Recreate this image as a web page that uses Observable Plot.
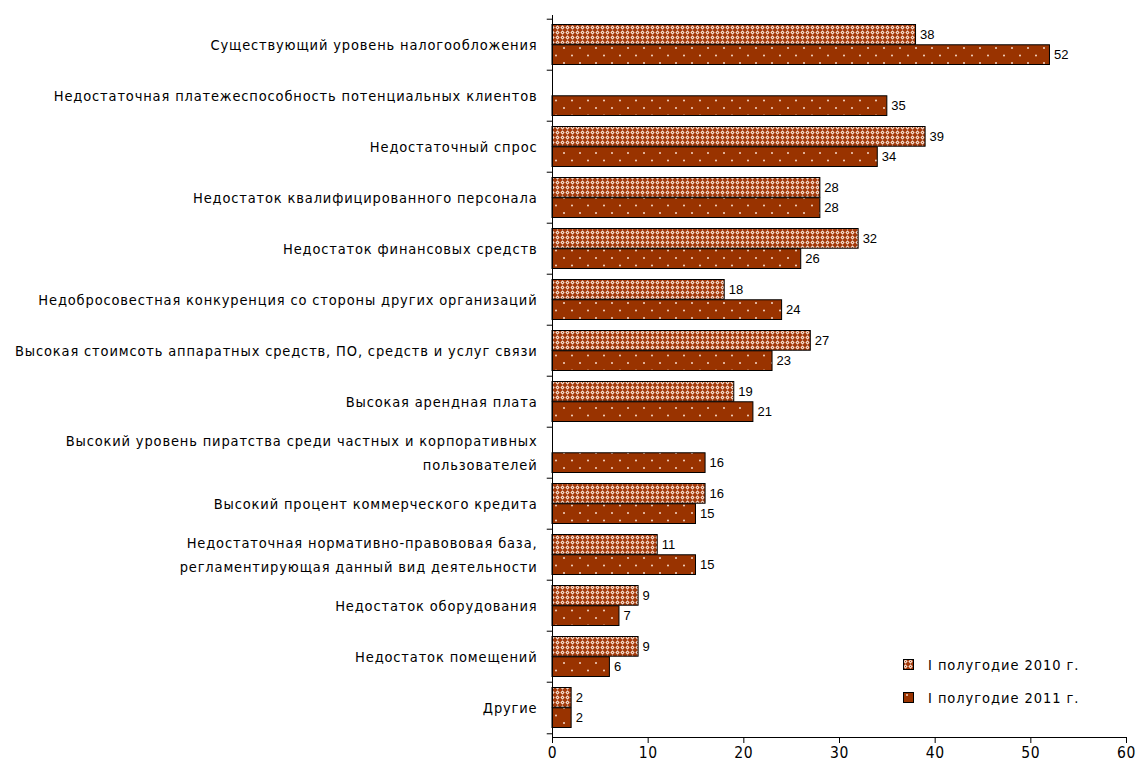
<!DOCTYPE html>
<html>
<head>
<meta charset="utf-8">
<script src="https://cdn.jsdelivr.net/npm/d3@7"></script>
<script src="https://cdn.jsdelivr.net/npm/@observablehq/plot@0.6"></script>
<style>
  html, body { margin: 0; padding: 0; background: #fff; }
  #wrap { position: relative; width: 1137px; height: 773px; }
  #chart svg { display: block; }
  #legend { position: absolute; left: 903px; top: 648px; font-family: "DejaVu Sans Condensed", sans-serif; font-size: 14.5px; letter-spacing: 0.95px; color: #000; }
  #legend .row { display: flex; align-items: center; height: 33px; }
  #legend svg { margin-right: 14px; }
</style>
</head>
<body>
<div id="wrap"><div id="chart"></div><div id="legend"></div></div>
<script>
const categories = [
  "Существующий уровень налогообложения",
  "Недостаточная платежеспособность потенциальных клиентов",
  "Недостаточный спрос",
  "Недостаток квалифицированного персонала",
  "Недостаток финансовых средств",
  "Недобросовестная конкуренция со стороны других организаций",
  "Высокая стоимсоть аппаратных средств, ПО, средств и услуг связи",
  "Высокая арендная плата",
  "Высокий уровень пиратства среди частных и корпоративных\nпользователей",
  "Высокий процент коммерческого кредита",
  "Недостаточная нормативно-правововая база,\nрегламентирующая данный вид деятельности",
  "Недостаток оборудования",
  "Недостаток помещений",
  "Другие"
];
const values2010 = [38, null, 39, 28, 32, 18, 27, 19, null, 16, 11, 9, 9, 2];
const values2011 = [52, 35, 34, 28, 26, 24, 23, 21, 16, 15, 15, 7, 6, 2];
const seriesNames = ["I полугодие 2010 г.", "I полугодие 2011 г."];
const xTicks = [0, 10, 20, 30, 40, 50, 60];

const data2010 = categories.map((c, i) => ({category: c, value: values2010[i]})).filter(d => d.value != null);
const data2011 = categories.map((c, i) => ({category: c, value: values2011[i]}));

const labelLines = categories.flatMap(c => {
  const parts = c.split("\n");
  return parts.map((t, j) => ({category: c, text: t, shift: (j - (parts.length - 1) / 2)}));
});

const W = 1137, H = 773;
const mTop = 15, mBottom = 36, mLeft = 552, mRight = 11;
const bw = (H - mTop - mBottom) / categories.length;
const half = bw / 2;
const edge = 5.5;
const labelOffset = (edge + half) / 2 - half;
const lineGap = 24;
const labelStyle = {fontFamily: "DejaVu Sans Condensed, sans-serif", fontSize: 14.5, fill: "#000"};

const chart = Plot.plot({
  width: W,
  height: H,
  marginTop: mTop,
  marginBottom: mBottom,
  marginLeft: mLeft,
  marginRight: mRight,
  style: {fontFamily: "DejaVu Sans Condensed, sans-serif", fontSize: "14px", background: "#fff", color: "#000"},
  x: {domain: [0, 60], ticks: xTicks, tickSize: 6, line: true, label: null, tickFormat: () => ""},
  y: {domain: categories, padding: 0, axis: null},
  marks: [
    Plot.barX(data2010, {y: "category", x: "value", insetTop: edge, insetBottom: half, fill: "url(#p2010)", stroke: "#000", strokeWidth: 1}),
    Plot.barX(data2011, {y: "category", x: "value", insetTop: half, insetBottom: edge, fill: "url(#p2011)", stroke: "#000", strokeWidth: 1}),
    Plot.ruleX([0], {stroke: "#000"}),
    Plot.ruleY(categories, {y: d => d, x1: 0, x2: -0.55, dy: -half, stroke: "#000"}),
    Plot.ruleY(categories.slice(-1), {y: d => d, x1: 0, x2: -0.55, dy: half, stroke: "#000"}),
    Plot.text(xTicks, {x: d => d, text: d => String(d), frameAnchor: "bottom", dy: 20, fontFamily: "DejaVu Sans Condensed, sans-serif", fontSize: 15.5, fill: "#000"}),
    Plot.text(data2010, {y: "category", x: "value", text: d => String(d.value), dx: 4, dy: labelOffset, textAnchor: "start", fontFamily: "Liberation Sans Narrow, sans-serif", fontSize: 13, fill: "#000"}),
    Plot.text(data2011, {y: "category", x: "value", text: d => String(d.value), dx: 4, dy: -labelOffset, textAnchor: "start", fontFamily: "Liberation Sans Narrow, sans-serif", fontSize: 13, fill: "#000"}),
    Plot.text(labelLines.filter(d => d.shift < 0), {y: "category", x: 0, text: "text", dx: -15, dy: -lineGap / 2, textAnchor: "end", ...labelStyle}),
    Plot.text(labelLines.filter(d => d.shift === 0), {y: "category", x: 0, text: "text", dx: -15, textAnchor: "end", ...labelStyle}),
    Plot.text(labelLines.filter(d => d.shift > 0), {y: "category", x: 0, text: "text", dx: -15, dy: lineGap / 2, textAnchor: "end", ...labelStyle})
  ]
});

const svg = d3.select(chart);
svg.selectAll("g[aria-label='text']").each(function(d, i) {
  if (i >= 3) d3.select(this).attr("letter-spacing", "0.85px");
  if (i === 0) d3.select(this).attr("letter-spacing", "0.6px");
});

const defs = svg.insert("defs", ":first-child");
const p1 = defs.append("pattern").attr("id", "p2010").attr("patternUnits", "userSpaceOnUse").attr("width", 5).attr("height", 5);
p1.append("rect").attr("width", 5).attr("height", 5).attr("fill", "#a43a0c");
p1.append("path").attr("d", "M2.5,0.3 L4.7,2.5 L2.5,4.7 L0.3,2.5 Z").attr("fill", "#f4dccd");
p1.append("rect").attr("x", 2).attr("y", 2).attr("width", 1).attr("height", 1).attr("fill", "#b04a1c");
const p2 = defs.append("pattern").attr("id", "p2011").attr("patternUnits", "userSpaceOnUse").attr("width", 16).attr("height", 15);
p2.append("rect").attr("width", 16).attr("height", 15).attr("fill", "#993300");
p2.append("circle").attr("cx", 4).attr("cy", 3).attr("r", 1).attr("fill", "#f6d8c8");
p2.append("circle").attr("cx", 12).attr("cy", 10.5).attr("r", 1).attr("fill", "#f6d8c8");

document.getElementById("chart").appendChild(chart);

const legend = d3.select("#legend");
const fills = ["url(#p2010)", "url(#p2011)"];
seriesNames.forEach((name, i) => {
  const row = legend.append("div").attr("class", "row");
  const s = row.append("svg").attr("width", 11).attr("height", 11);
  s.append("rect").attr("x", 0.5).attr("y", 0.5).attr("width", 10).attr("height", 10).attr("fill", fills[i]).attr("stroke", "#000");
  row.append("span").text(name);
});
</script>
</body>
</html>
